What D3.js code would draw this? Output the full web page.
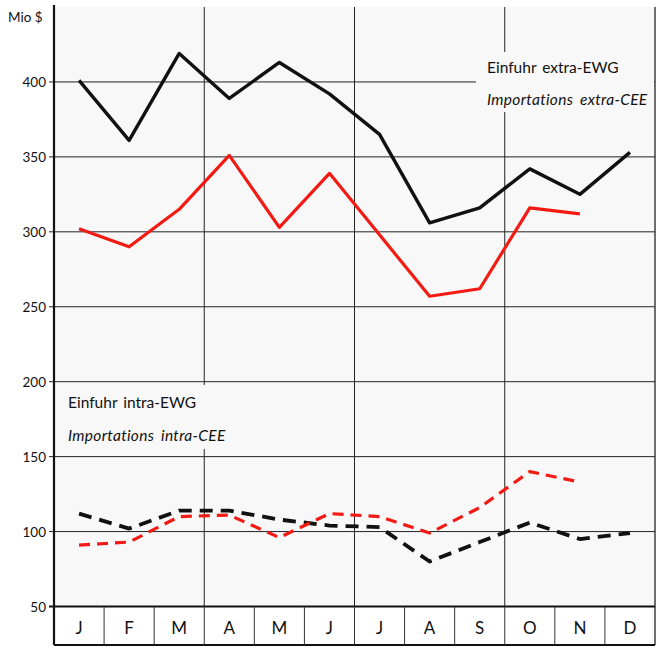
<!DOCTYPE html>
<html>
<head>
<meta charset="utf-8">
<script src="https://cdn.jsdelivr.net/npm/d3@7"></script>
<style>
  body { margin: 0; background: #fff; }
  text { font-family: "Lato", "Open Sans", sans-serif; fill: #111; }
  .tick-label { font-size: 13.5px; }
  .month { font-size: 17px; }
  .legend { font-size: 15.5px; word-spacing: 2px; }
  .legend-it { font-size: 15.5px; font-style: italic; word-spacing: 3px; letter-spacing: 0.3px; }
</style>
</head>
<body>
<div id="main"></div>
<script>
// data (Mio $)
const months = ["J", "F", "M", "A", "M", "J", "J", "A", "S", "O", "N", "D"];
const yTicks = [50, 100, 150, 200, 250, 300, 350, 400];

const extraBlack = [401, 361, 419, 389, 413, 392, 365, 306, 316, 342, 325, 353];
const extraRed = [302, 290, 315, 351, 303, 339, 298, 257, 262, 316, 312, null];
const intraBlack = [112, 102, 114, 114, 108, 104, 103, 80, 93, 106, 95, 99];
const intraRed = [91, 93, 110, 111, 96, 112, 110, 99, 116, 140, 133, null];

// dimensions
const svg_width = 664,
    svg_height = 648;
const plot = {left: 54, right: 655, top: 7, bottom: 606.5, monthBottom: 645};

var svg = d3.select("#main").append("svg")
    .attr("width", svg_width)
    .attr("height", svg_height);

var xScale = d3.scaleBand()
    .domain(d3.range(12))
    .range([plot.left, plot.right]);
var yScale = d3.scaleLinear()
    .domain([50, 450])
    .range([plot.bottom, plot.top]);

// plot background
svg.append("rect")
    .attr("x", plot.left).attr("y", plot.top)
    .attr("width", plot.right - plot.left).attr("height", plot.bottom - plot.top)
    .attr("fill", "#f8f8f8");

// horizontal grid
svg.append("g").selectAll("line")
    .data(yTicks.filter(d => d > 50))
    .enter().append("line")
    .attr("x1", plot.left - 5).attr("x2", plot.right)
    .attr("y1", d => yScale(d)).attr("y2", d => yScale(d))
    .attr("stroke", "#222").attr("stroke-width", 1);

// vertical grid every quarter
svg.append("g").selectAll("line")
    .data([3, 6, 9])
    .enter().append("line")
    .attr("x1", d => xScale(d)).attr("x2", d => xScale(d))
    .attr("y1", plot.top).attr("y2", plot.bottom)
    .attr("stroke", "#222").attr("stroke-width", 1);
svg.append("line")
    .attr("x1", plot.right).attr("x2", plot.right)
    .attr("y1", plot.top).attr("y2", plot.monthBottom)
    .attr("stroke", "#222").attr("stroke-width", 1.3);

// legend boxes hide the grid
svg.append("rect").attr("x", 476).attr("y", 52).attr("width", 178).attr("height", 60).attr("fill", "#f8f8f8");
svg.append("rect").attr("x", 58).attr("y", 385).attr("width", 180).attr("height", 64).attr("fill", "#f8f8f8");

// y tick labels
svg.append("g").selectAll("text")
    .data(yTicks)
    .enter().append("text")
    .attr("class", "tick-label")
    .attr("x", 46)
    .attr("y", d => yScale(d) + 5)
    .attr("text-anchor", "end")
    .text(d => d);

svg.append("text")
    .attr("class", "tick-label")
    .attr("x", 8).attr("y", 22)
    .text("Mio $");

// axes
svg.append("line")
    .attr("x1", plot.left).attr("x2", plot.left)
    .attr("y1", plot.top - 2).attr("y2", plot.monthBottom)
    .attr("stroke", "#111").attr("stroke-width", 2.2);
svg.append("line")
    .attr("x1", plot.left - 5).attr("x2", plot.right)
    .attr("y1", plot.bottom).attr("y2", plot.bottom)
    .attr("stroke", "#111").attr("stroke-width", 2.2);
svg.append("line")
    .attr("x1", plot.left).attr("x2", plot.right)
    .attr("y1", plot.monthBottom).attr("y2", plot.monthBottom)
    .attr("stroke", "#111").attr("stroke-width", 2);

// month cells
svg.append("g").selectAll("line")
    .data(d3.range(1, 12))
    .enter().append("line")
    .attr("x1", d => xScale(d)).attr("x2", d => xScale(d))
    .attr("y1", plot.bottom).attr("y2", plot.monthBottom)
    .attr("stroke", "#333").attr("stroke-width", 1);
svg.append("g").selectAll("text")
    .data(months)
    .enter().append("text")
    .attr("class", "month")
    .attr("x", (d, i) => xScale(i) + xScale.bandwidth() / 2)
    .attr("y", 634)
    .attr("text-anchor", "middle")
    .text(d => d);

// lines
var line = d3.line()
    .defined(d => d != null)
    .x((d, i) => xScale(i) + xScale.bandwidth() / 2)
    .y(d => yScale(d));

var series = [
    {values: extraBlack, color: "#111", width: 3.4, dash: null},
    {values: extraRed, color: "#f41a14", width: 3.2, dash: null},
    {values: intraBlack, color: "#111", width: 3.8, dash: "13,8"},
    {values: intraRed, color: "#f41a14", width: 3.2, dash: "11,7"}
];
svg.append("g").selectAll("path")
    .data(series)
    .enter().append("path")
    .attr("fill", "none")
    .attr("stroke", d => d.color)
    .attr("stroke-width", d => d.width)
    .attr("stroke-dasharray", d => d.dash)
    .attr("stroke-linejoin", "round")
    .attr("d", d => line(d.values));

// legend texts
svg.append("text").attr("class", "legend").attr("x", 487).attr("y", 73).text("Einfuhr extra-EWG");
svg.append("text").attr("class", "legend-it").attr("x", 487).attr("y", 105).text("Importations extra-CEE");
svg.append("text").attr("class", "legend").attr("x", 68).attr("y", 408).text("Einfuhr intra-EWG");
svg.append("text").attr("class", "legend-it").attr("x", 68).attr("y", 441).text("Importations intra-CEE");
</script>
</body>
</html>
